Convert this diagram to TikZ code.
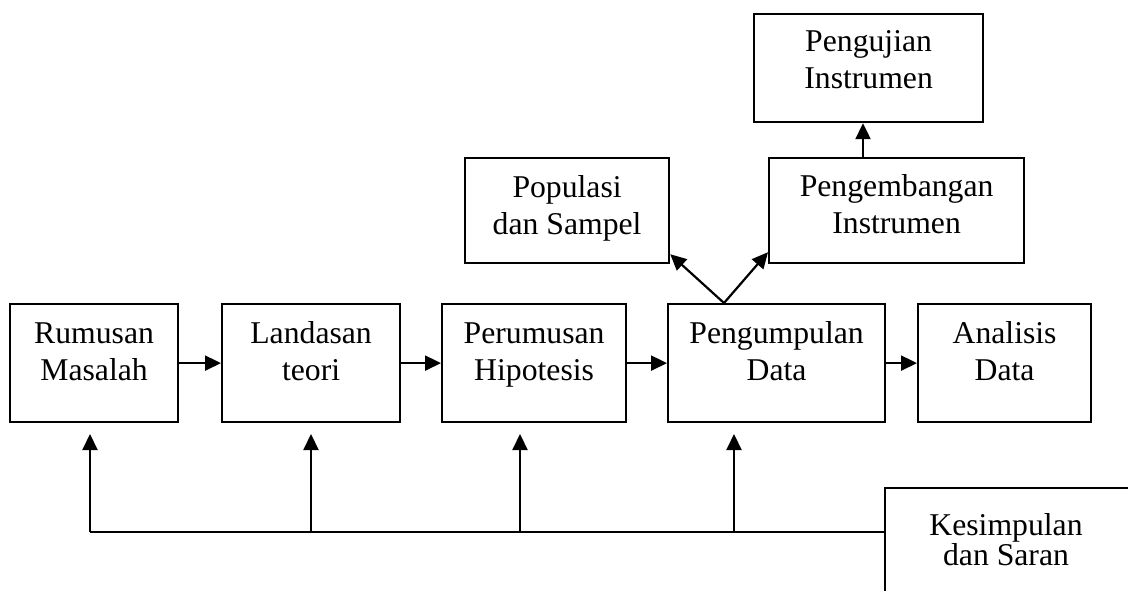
\documentclass[tikz,border=0pt]{standalone}
\usepackage{fontspec}
\setmainfont{Liberation Serif}
\usetikzlibrary{arrows.meta}
\begin{document}
\begin{tikzpicture}[x=0.5pt,y=-0.5pt,
  box/.style={draw,line width=1.1pt,inner sep=0pt,minimum width=#1*0.5pt},
  lbl/.style={anchor=base,inner sep=0pt,align=center,font=\fontsize{15.85pt}{18.5pt}\selectfont},
  arr/.style={line width=1.1pt,-{Triangle[length=8pt,width=7.5pt]}},
  ln/.style={line width=1.1pt}]
\useasboundingbox (0,0) rectangle (1128,590);
% boxes (corner coordinates in px)
\node[box=168,minimum height=59pt,anchor=north west] (rm) at (9,303) {};
\node[box=178,minimum height=59pt,anchor=north west] (ld) at (221,303) {};
\node[box=184,minimum height=59pt,anchor=north west] (ph) at (441,303) {};
\node[box=217,minimum height=59pt,anchor=north west] (pd) at (667,303) {};
\node[box=173,minimum height=59pt,anchor=north west] (ad) at (917,303) {};
\node[box=204,minimum height=52.5pt,anchor=north west] (ps) at (464,157) {};
\node[box=255,minimum height=52.5pt,anchor=north west] (pi) at (768,157) {};
\node[box=229,minimum height=54pt,anchor=north west] (ui) at (753,13) {};
\node[box=250,minimum height=60pt,anchor=north west] (ks) at (884,487) {};
% texts (anchor base = last line)
\node[lbl] (rmT) at ([yshift=-38.5pt]rm.north) {Rumusan\\Masalah};
\node[lbl] (ldT) at ([yshift=-38.5pt]ld.north) {Landasan\\teori};
\node[lbl] (phT) at ([yshift=-38.5pt]ph.north) {Perumusan\\Hipotesis};
\node[lbl] (pdT) at ([yshift=-38.5pt]pd.north) {Pengumpulan\\Data};
\node[lbl] (adT) at ([yshift=-38.5pt]ad.north) {Analisis\\Data};
\node[lbl] (psT) at ([yshift=-38.5pt]ps.north) {Populasi\\dan Sampel};
\node[lbl] (piT) at ([yshift=-38pt]pi.north) {Pengembangan\\Instrumen};
\node[lbl] (uiT) at ([yshift=-37.5pt]ui.north) {Pengujian\\Instrumen};
\node[lbl,font=\fontsize{15.85pt}{15pt}\selectfont] (ksT) at (1006,565) {Kesimpulan\\dan Saran};
% horizontal flow
\draw[arr] (rm.east) -- (ld.west);
\draw[arr] (ld.east) -- (ph.west);
\draw[arr] (ph.east) -- (pd.west);
\draw[arr] (pd.east) -- (ad.west);
% branches
\coordinate (apex) at (724,303);
\draw[arr] (apex) -- ([yshift=5pt]ps.south east);
\draw[arr] (apex) -- ([yshift=6pt]pi.south west);
\coordinate (pup) at (863,157);
\draw[arr] (pup) -- (pup |- ui.south);
% feedback
\coordinate (f1) at (90,532);
\coordinate (f2) at (311,532);
\coordinate (f3) at (520,532);
\coordinate (f4) at (734,532);
\draw[ln] (f1) -- (f1 -| ks.west);
\draw[arr] (f1) -- (90,434);
\draw[arr] (f2) -- (311,434);
\draw[arr] (f3) -- (520,434);
\draw[arr] (f4) -- (734,434);
\end{tikzpicture}
\end{document}
